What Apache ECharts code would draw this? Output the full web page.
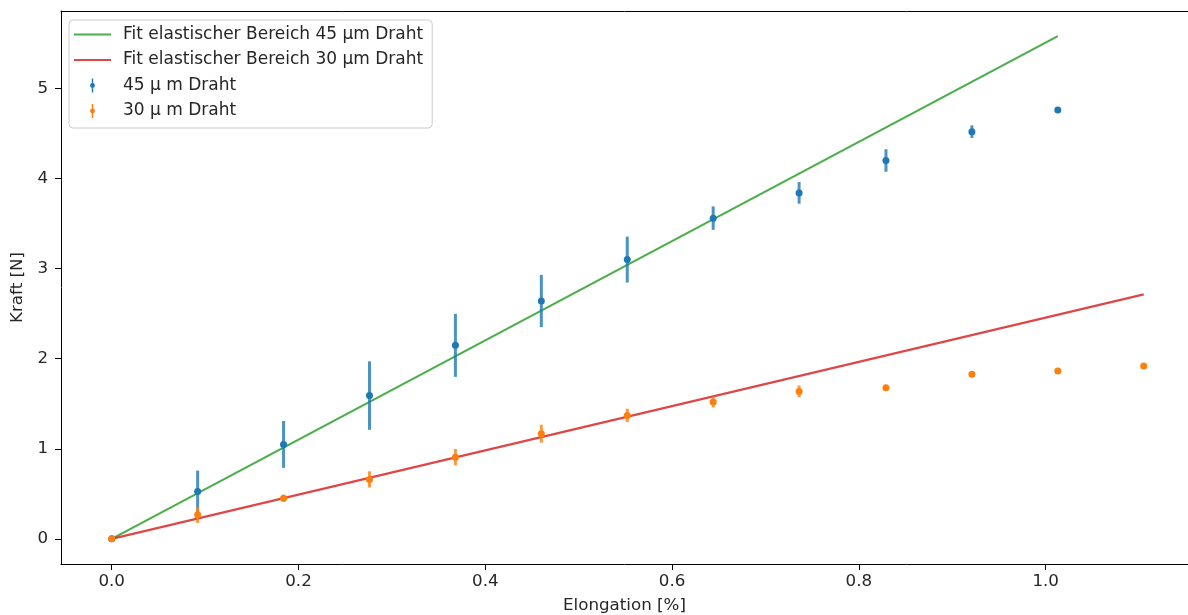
<!DOCTYPE html>
<html>
<head>
<meta charset="utf-8">
<script src="https://cdn.jsdelivr.net/npm/echarts@6/dist/echarts.min.js"></script>
<style>
  html, body { margin: 0; padding: 0; background: #fff; }
  #main { width: 1188px; height: 615px; }
</style>
</head>
<body>
<div id="main"></div>
<script>
// Messwerte 45 um Draht
var elong45 = [0, 0.092, 0.184, 0.276, 0.368, 0.460, 0.552, 0.644, 0.736, 0.829, 0.921, 1.013];
var kraft45 = [0, 0.525, 1.048, 1.59, 2.148, 2.64, 3.10, 3.56, 3.84, 4.20, 4.52, 4.76];
var err45 = [0, 0.233, 0.26, 0.38, 0.35, 0.29, 0.255, 0.13, 0.12, 0.125, 0.07, 0.02];

// Messwerte 30 um Draht
var elong30 = [0, 0.092, 0.184, 0.276, 0.368, 0.460, 0.552, 0.644, 0.736, 0.829, 0.921, 1.013, 1.105];
var kraft30 = [0, 0.267, 0.45, 0.66, 0.907, 1.167, 1.37, 1.518, 1.637, 1.678, 1.826, 1.862, 1.918];
var err30 = [0, 0.09, 0.04, 0.09, 0.09, 0.1, 0.075, 0.06, 0.065, 0.02, 0.02, 0.02, 0.02];

// Fit (elastischer Bereich), Endpunkte
var fitX45 = [0, 1.013];
var fitY45 = [0, 5.58];
var fitX30 = [0, 1.105];
var fitY30 = [0, 2.714];

var xTicks = [0.0, 0.2, 0.4, 0.6, 0.8, 1.0];
var yTicks = [0, 1, 2, 3, 4, 5];

var names = [
    'Fit elastischer Bereich 45 µm Draht',
    'Fit elastischer Bereich 30 µm Draht',
    '45 µ m Draht',
    '30 µ m Draht'
];

var FONT = 'DejaVu Sans';
var FS = 16.7;
var TXT = '#262626';

function zip() {
    var a = arguments, out = [];
    for (var i = 0; i < a[0].length; i++) {
        var row = [];
        for (var k = 0; k < a.length; k++) row.push(a[k][i]);
        out.push(row);
    }
    return out;
}

function errRender(color) {
    return function (params, api) {
        var x = api.value(0), y = api.value(1), e = api.value(2);
        var p1 = api.coord([x, y - e]);
        var p2 = api.coord([x, y + e]);
        return {
            type: 'line',
            shape: { x1: p1[0], y1: p1[1], x2: p2[0], y2: p2[1] },
            style: { stroke: color, lineWidth: 3, opacity: 0.8 }
        };
    };
}

var lineIcon = 'path://M0,0H37V2H0Z';
var dotIcon = 'path://M4,0H6V20H4Z M5,6.5A3.5,3.5 0 1 1 5,13.5A3.5,3.5 0 1 1 5,6.5Z';

var option = {
    animation: false,
    backgroundColor: '#fff',
    textStyle: { fontFamily: FONT },
    grid: { left: 61, right: 0, top: 11, bottom: 51, outerBoundsMode: 'none', containLabel: false },
    legend: {
        orient: 'vertical',
        left: 69, top: 20,
        padding: [4.5, 9, 7, 5],
        itemWidth: 37, itemHeight: 14, itemGap: 5.5,
        borderColor: '#cccccc', borderWidth: 1, borderRadius: 4,
        backgroundColor: 'rgba(255,255,255,0.8)',
        textStyle: { fontFamily: FONT, fontSize: 17, color: TXT, lineHeight: 20, padding: [0, 0, 0, 7] },
        data: [
            { name: names[0], icon: lineIcon, itemStyle: { color: '#2ca02c', opacity: 0.85 } },
            { name: names[1], icon: lineIcon, itemStyle: { color: '#d62728', opacity: 0.85 } },
            { name: names[2], icon: dotIcon, itemStyle: { color: '#1f77b4' } },
            { name: names[3], icon: dotIcon, itemStyle: { color: '#ff7f0e' } }
        ]
    },
    xAxis: [
        {
            type: 'value',
            min: -0.0543, max: 1.1524,
            name: 'Elongation [%]',
            nameLocation: 'middle', nameGap: 33,
            nameTextStyle: { fontFamily: FONT, fontSize: FS, color: TXT },
            splitLine: { show: false },
            axisLine: { show: true, onZero: false, lineStyle: { color: '#000', width: 1 } },
            axisTick: { show: true, customValues: xTicks, length: 6, inside: false, lineStyle: { color: '#000' } },
            axisLabel: {
                customValues: xTicks, margin: 9,
                fontFamily: FONT, fontSize: FS, color: TXT,
                formatter: function (v) { return v.toFixed(1); }
            }
        },
        {
            // obere Rahmenlinie
            type: 'value', position: 'top',
            min: -0.0543, max: 1.1524,
            splitLine: { show: false },
            axisLine: { show: true, onZero: false, lineStyle: { color: '#000', width: 1 } },
            axisTick: { show: false },
            axisLabel: { show: false }
        }
    ],
    yAxis: {
        type: 'value',
        min: -0.279, max: 5.859,
        name: 'Kraft [N]',
        nameLocation: 'middle', nameGap: 34,
        nameTextStyle: { fontFamily: FONT, fontSize: FS, color: TXT },
        splitLine: { show: false },
        axisLine: { show: true, onZero: false, lineStyle: { color: '#000', width: 1 } },
        axisTick: { show: true, customValues: yTicks, length: 6, inside: false, lineStyle: { color: '#000' } },
        axisLabel: {
            customValues: yTicks, margin: 13,
            fontFamily: FONT, fontSize: FS, color: TXT
        }
    },
    series: [
        {
            name: names[0], type: 'line', symbol: 'none',
            data: zip(fitX45, fitY45),
            lineStyle: { color: '#2ca02c', width: 2.2, opacity: 0.85 },
            itemStyle: { color: '#2ca02c', opacity: 0.85 },
            z: 2
        },
        {
            name: names[1], type: 'line', symbol: 'none',
            data: zip(fitX30, fitY30),
            lineStyle: { color: '#d62728', width: 2.2, opacity: 0.85 },
            itemStyle: { color: '#d62728', opacity: 0.85 },
            z: 2
        },
        {
            name: names[2], type: 'custom',
            renderItem: errRender('#1f77b4'),
            encode: { x: 0, y: 1 },
            data: zip(elong45, kraft45, err45),
            itemStyle: { color: '#1f77b4' },
            z: 3
        },
        {
            name: names[2], type: 'scatter', symbol: 'circle', symbolSize: 7,
            data: zip(elong45, kraft45),
            itemStyle: { color: '#1f77b4', opacity: 1 },
            z: 4
        },
        {
            name: names[3], type: 'custom',
            renderItem: errRender('#ff7f0e'),
            encode: { x: 0, y: 1 },
            data: zip(elong30, kraft30, err30),
            itemStyle: { color: '#ff7f0e' },
            z: 5
        },
        {
            name: names[3], type: 'scatter', symbol: 'circle', symbolSize: 7,
            data: zip(elong30, kraft30),
            itemStyle: { color: '#ff7f0e', opacity: 1 },
            z: 6
        }
    ]
};

var chart = echarts.init(document.getElementById('main'), null, { renderer: 'canvas' });
chart.setOption(option);
</script>
</body>
</html>
